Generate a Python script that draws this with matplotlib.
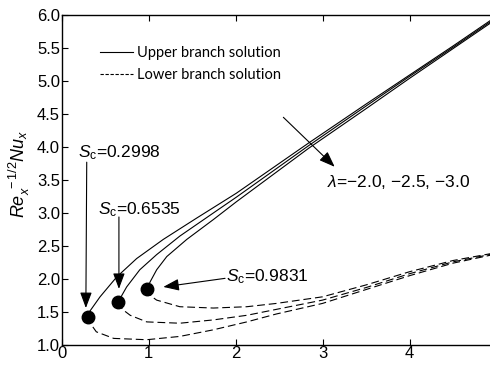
import matplotlib
matplotlib.use('Agg')
import matplotlib.pyplot as plt
from matplotlib.lines import Line2D

plt.rcParams['font.family'] = ['Liberation Sans', 'DejaVu Sans']
plt.rcParams['mathtext.fontset'] = 'custom'
plt.rcParams['mathtext.rm'] = 'Liberation Sans'
plt.rcParams['mathtext.it'] = 'Liberation Sans:italic'

# critical points (turning points) for lambda = -2.0, -2.5, -3.0
s_crit = [0.2998, 0.6535, 0.9831]
nu_crit = [1.43, 1.65, 1.85]

# upper branch (solid)
upper_s = [
    [0.2998, 0.33, 0.443, 0.634, 0.864, 1.17, 1.55, 2.01, 2.84, 3.5, 4.0, 4.5, 5.0],
    [0.6535, 0.68, 0.749, 0.90, 1.094, 1.36, 1.745, 2.01, 2.84, 3.5, 4.0, 4.5, 5.0],
    [0.9831, 1.02, 1.094, 1.21, 1.44, 1.745, 2.01, 2.84, 3.5, 4.0, 4.5, 5.0],
]
upper_nu = [
    [1.43, 1.52, 1.73, 2.03, 2.31, 2.60, 2.92, 3.30, 4.06, 4.65, 5.09, 5.53, 5.98],
    [1.65, 1.72, 1.88, 2.14, 2.37, 2.65, 3.00, 3.24, 4.02, 4.62, 5.07, 5.51, 5.96],
    [1.85, 1.96, 2.14, 2.34, 2.60, 2.90, 3.17, 3.98, 4.58, 5.04, 5.49, 5.94],
]

# lower branch (dashed)
lower_s = [
    [0.2998, 0.33, 0.40, 0.60, 0.98, 1.36, 1.745, 2.13, 2.47, 3.0, 3.5, 4.0, 4.5, 5.0],
    [0.6535, 0.70, 0.79, 0.98, 1.36, 1.745, 2.13, 2.47, 3.0, 3.5, 4.0, 4.5, 5.0],
    [0.9831, 1.03, 1.094, 1.36, 1.745, 2.13, 2.47, 3.0, 3.5, 4.0, 4.5, 5.0],
]
lower_nu = [
    [1.43, 1.33, 1.20, 1.10, 1.08, 1.13, 1.23, 1.35, 1.47, 1.63, 1.84, 2.05, 2.24, 2.38],
    [1.65, 1.54, 1.45, 1.35, 1.33, 1.38, 1.45, 1.54, 1.68, 1.87, 2.08, 2.26, 2.39],
    [1.85, 1.74, 1.68, 1.58, 1.56, 1.58, 1.63, 1.73, 1.91, 2.11, 2.28, 2.40],
]

sc_labels = ['0.2998', '0.6535', '0.9831']

fig = plt.figure(figsize=(4.9, 3.82), dpi=100)
ax = fig.add_axes([61.5 / 490, 1 - 345 / 382, 435 / 490, 330 / 382])

for xs, ys in zip(upper_s, upper_nu):
    ax.plot(xs, ys, color='black', lw=0.8, solid_joinstyle='round')
for xs, ys in zip(lower_s, lower_nu):
    ax.plot(xs, ys, color='black', lw=0.8, linestyle=(0, (7, 3.5)))
ax.plot(s_crit, nu_crit, 'o', color='black', markersize=9)

ax.set_xlim(0, 5)
ax.set_ylim(1.0, 6.0)
ax.set_xticks([0, 1, 2, 3, 4])
ax.set_yticks([1.0, 1.5, 2.0, 2.5, 3.0, 3.5, 4.0, 4.5, 5.0, 5.5, 6.0])
ax.set_yticklabels(['%.1f' % v for v in ax.get_yticks()])
ax.tick_params(direction='in', length=4, width=0.8, labelsize=12, pad=1,
               top=True, right=False)
ax.spines['right'].set_visible(False)
for sp in ['left', 'bottom', 'top']:
    ax.spines[sp].set_linewidth(1.0)

ax.set_xlabel('$S$', fontsize=13)
ax.xaxis.set_label_coords(0.5, -0.125)
ax.set_ylabel('$Re_x^{\\ -1/2}Nu_x$', fontsize=13)
ax.yaxis.set_label_coords(-0.068, 0.52)

# legend
handles = [Line2D([], [], color='black', lw=0.8),
           Line2D([], [], color='black', lw=0.8, linestyle=(0, (3, 1.5)))]
ax.legend(handles, ['Upper branch solution', 'Lower branch solution'],
          loc='upper left', bbox_to_anchor=(0.088, 0.907), frameon=False,
          prop={'family': 'Lato', 'size': 10.5}, handlelength=2.25,
          handletextpad=0.3, labelspacing=0.55, borderpad=0, borderaxespad=0)

arrow = dict(arrowstyle='-|>,head_length=0.8,head_width=0.3', color='black',
             lw=0.8, mutation_scale=12, shrinkA=0, shrinkB=0)

# critical-point labels with arrows
ax.text(0.19, 3.91, '$S_{\\mathrm{c}}$=' + sc_labels[0], fontsize=12.5, va='center')
ax.annotate('', xy=(0.28, 1.56), xytext=(0.29, 3.77), arrowprops=arrow)
ax.text(0.42, 3.05, '$S_{\\mathrm{c}}$=' + sc_labels[1], fontsize=12.5, va='center')
ax.annotate('', xy=(0.66, 1.85), xytext=(0.66, 2.94), arrowprops=arrow)
ax.text(1.89, 2.03, '$S_{\\mathrm{c}}$=' + sc_labels[2], fontsize=12.5, va='center')
ax.annotate('', xy=(1.17, 1.88), xytext=(1.88, 2.01), arrowprops=arrow)

ax.text(3.05, 3.47, '$\\lambda$=\u22122.0, \u22122.5, \u22123.0', fontsize=12.5, va='center')
ax.annotate('', xy=(3.14, 3.70), xytext=(2.55, 4.45), arrowprops=arrow)

fig.savefig('out.png', dpi=100)
